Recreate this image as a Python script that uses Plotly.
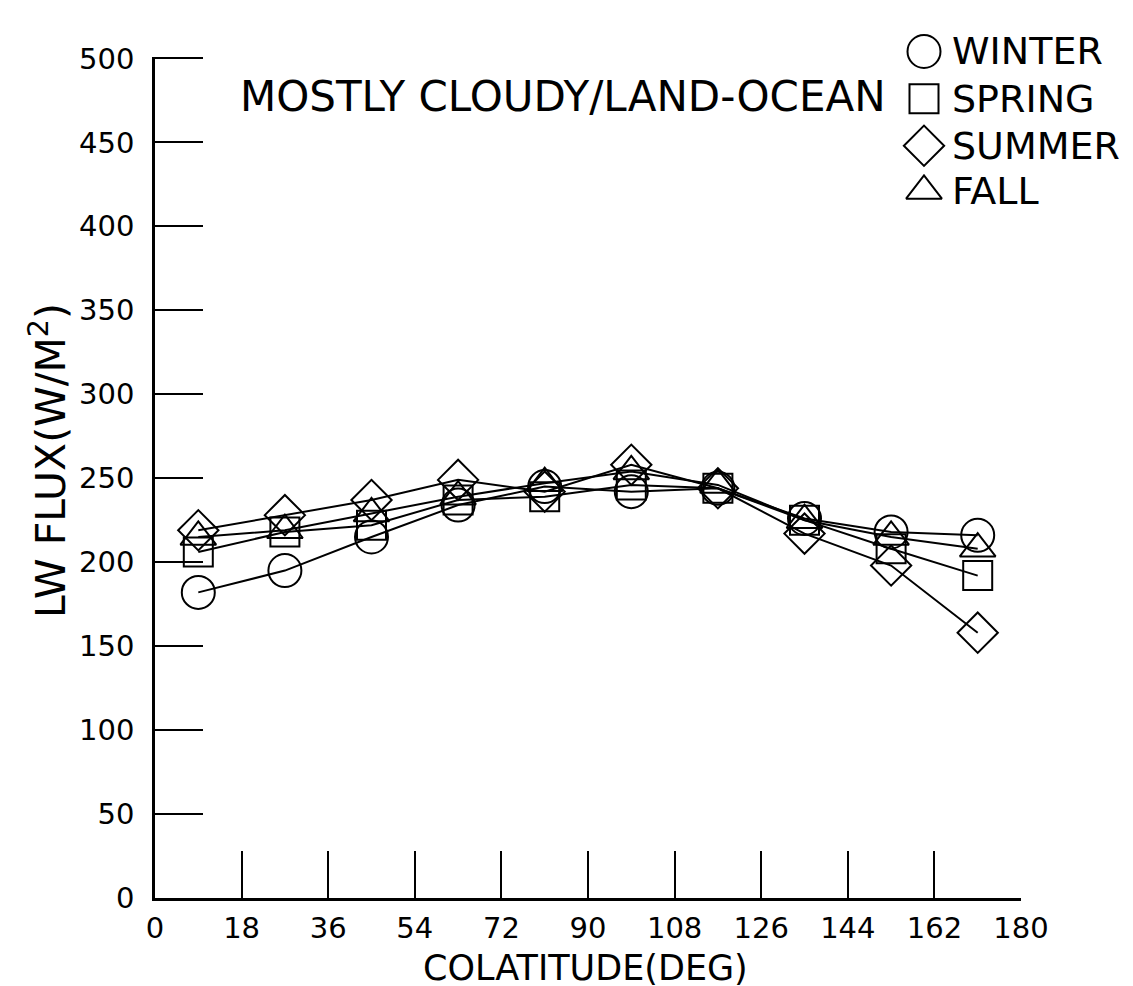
import plotly.graph_objects as go

colatitude = [9, 27, 45, 63, 81, 99, 117, 135, 153, 171]
winter = [182, 195, 215, 234, 245, 242, 244, 226, 218, 216]
spring = [206, 218, 222, 237, 239, 246, 244, 225, 208, 192]
summer = [219, 228, 237, 249, 242, 258, 244, 217, 198, 158]
fall = [215, 219, 229, 239, 247, 254, 246, 225, 215, 208]

series_names = ["WINTER", "SPRING", "SUMMER", "FALL"]
series_values = [winter, spring, summer, fall]
symbols = ["circle-open", "square-open", "diamond-open", "triangle-up-open"]
sizes = [33, 29, 31, 31]

x_ticks = [0, 18, 36, 54, 72, 90, 108, 126, 144, 162, 180]
y_ticks = [0, 50, 100, 150, 200, 250, 300, 350, 400, 450, 500]

FONT = "DejaVu Sans"
W, H = 1133, 986
ML, MR, MB = 147, 120, 96
PLOT_TOP = 34
PW = W - ML - MR
PAPER_H = H - MB  # paper spans from top of figure to x axis


def px_x(p):
    return (p - ML) / PW


def px_y(p):
    return (PAPER_H - p) / PAPER_H


fig = go.Figure()
for vals in series_values:
    fig.add_trace(go.Scatter(
        x=colatitude, y=vals, mode="lines", showlegend=False,
        line=dict(color="black", width=2), hoverinfo="skip"))
for name, vals, sym, sz in zip(series_names, series_values, symbols, sizes):
    fig.add_trace(go.Scatter(
        x=colatitude, y=vals, mode="markers", name=name, showlegend=False,
        marker=dict(symbol=sym, size=sz, color="black",
                    line=dict(color="black", width=2))))

# custom legend (large symbols) on a hidden full-page axis pair
leg_x = px_x(916)
leg_text_x = px_x(942)
leg_rows = [28, 76, 124, 170]
annotations = []
for name, sym, sz, row in zip(series_names, symbols, sizes, leg_rows):
    yy = px_y(row)
    fig.add_trace(go.Scatter(
        x=[leg_x], y=[yy], xaxis="x2", yaxis="y2", mode="markers",
        showlegend=False, cliponaxis=False, hoverinfo="skip",
        marker=dict(symbol=sym, size=sz, color="black",
                    line=dict(color="black", width=2))))
    annotations.append(dict(text=name, xref="paper", yref="paper",
                            x=leg_text_x, y=yy, xanchor="left", yanchor="middle",
                            showarrow=False, font=dict(size=38, family=FONT)))

annotations.append(dict(text="MOSTLY CLOUDY/LAND-OCEAN", xref="paper", yref="paper",
                        x=px_x(555), y=px_y(74), xanchor="center", yanchor="middle",
                        showarrow=False, font=dict(size=42, family=FONT)))
annotations.append(dict(text="COLATITUDE(DEG)", xref="paper", yref="paper",
                        x=px_x(577), y=px_y(961), xanchor="center", yanchor="middle",
                        showarrow=False, font=dict(size=35, family=FONT)))
annotations.append(dict(text="LW FLUX(W/M<sup>2</sup>)", xref="paper", yref="paper",
                        x=px_x(40), y=px_y(445), xanchor="center", yanchor="middle",
                        textangle=-90, showarrow=False, font=dict(size=41, family=FONT)))

fig.update_layout(
    width=W, height=H,
    margin=dict(l=ML, r=MR, t=0, b=MB),
    paper_bgcolor="white", plot_bgcolor="rgba(0,0,0,0)",
    font=dict(family=FONT, color="black"),
    showlegend=False,
    xaxis=dict(range=[0, 180], tickvals=x_ticks, ticktext=[str(v) for v in x_ticks],
               ticks="inside", ticklen=47, tickwidth=2, tickcolor="black",
               showline=True, linecolor="black", linewidth=2.5,
               showgrid=False, zeroline=False, ticklabelstandoff=2,
               tickfont=dict(size=29, family=FONT), anchor="y"),
    yaxis=dict(range=[0, 500.6], tickvals=y_ticks, ticktext=[str(v) for v in y_ticks],
               domain=[0, (PAPER_H - PLOT_TOP) / PAPER_H],
               ticks="inside", ticklen=48, tickwidth=2, tickcolor="black",
               showline=True, linecolor="black", linewidth=2.5,
               showgrid=False, zeroline=False, ticklabelstandoff=12,
               tickfont=dict(size=29, family=FONT), anchor="x"),
    xaxis2=dict(range=[0, 1], domain=[0, 1], anchor="y2", visible=False, fixedrange=True),
    yaxis2=dict(range=[0, 1], domain=[0, 1], anchor="x2", visible=False, fixedrange=True),
    annotations=annotations,
)

fig.write_html("out.html")
